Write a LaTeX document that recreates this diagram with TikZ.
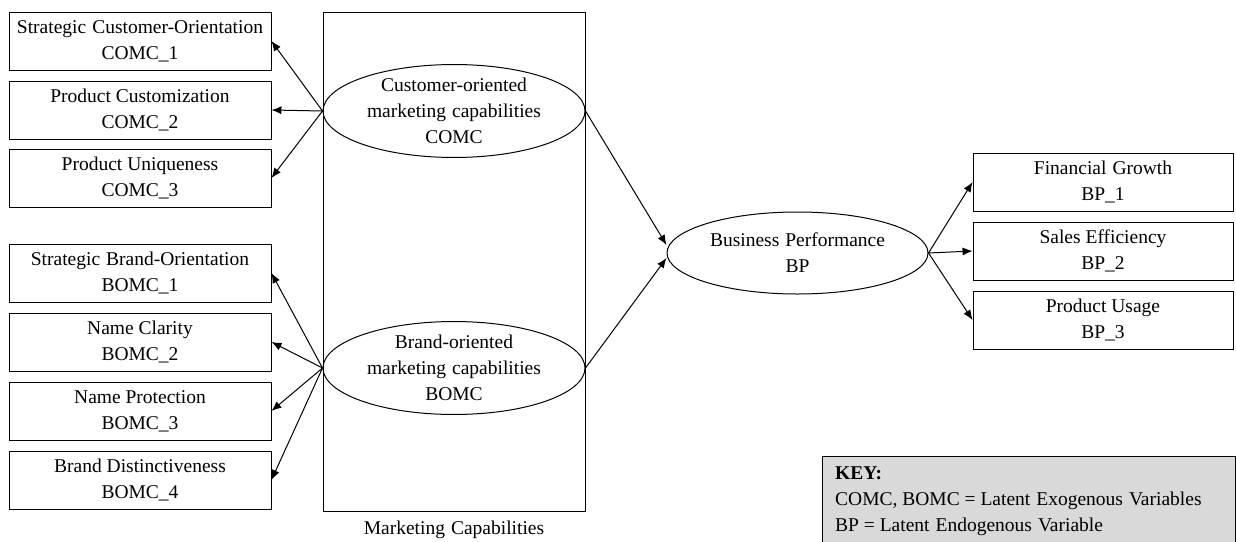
\documentclass[tikz,border=0pt]{standalone}
\usepackage{fontspec}
\setmainfont{Liberation Serif}
\usetikzlibrary{shapes.geometric,arrows.meta}
\newcommand{\wsp}{\hspace{6pt}}
\tikzset{
  txt/.style={font=\fontsize{19.5}{26}\selectfont},
  indbox/.style={txt,draw,line width=0.9pt,minimum width=262pt,minimum height=58pt,align=center,inner sep=0pt},
  outbox/.style={indbox,minimum width=260pt},
  latent/.style={txt,draw,ellipse,line width=1pt,minimum width=262pt,minimum height=82pt,align=center,inner sep=0pt},
  arr/.style={line width=1pt,-{Latex[length=10pt,width=8pt]}}
}
\begin{document}
\begin{tikzpicture}[x=1pt,y=-1pt]
\useasboundingbox (0,0) rectangle (1236,541);

% marketing capabilities frame
\node[draw,line width=0.9pt,minimum width=262pt,minimum height=499pt,inner sep=0pt] (mc) at (454,261.5) {};
\node[txt] (mclabel) at (454,530) {Marketing\wsp Capabilities};

% latent constructs
\node[latent] (comc) at (454,111) {Customer-oriented\\marketing\wsp capabilities\\COMC};
\node[latent] (bomc) at (454,368) {Brand-oriented\\marketing\wsp capabilities\\BOMC};
\node[latent,minimum width=261pt] (bp) at (797.5,253) {Business\wsp Performance\\BP};

% indicators of COMC
\node[indbox] (c1) at (140,41)  {Strategic\wsp Customer-Orientation\\COMC\_1};
\node[indbox] (c2) at (140,110) {Product Customization\\COMC\_2};
\node[indbox] (c3) at (140,178) {Product Uniqueness\\COMC\_3};

% indicators of BOMC
\node[indbox] (b1) at (140,273) {Strategic\wsp Brand-Orientation\\BOMC\_1};
\node[indbox] (b2) at (140,342) {Name Clarity\\BOMC\_2};
\node[indbox] (b3) at (140,411) {Name Protection\\BOMC\_3};
\node[indbox] (b4) at (140,480) {Brand Distinctiveness\\BOMC\_4};

% indicators of BP
\node[outbox] (p1) at (1103,182) {Financial\wsp Growth\\BP\_1};
\node[outbox] (p2) at (1103,251) {Sales Efficiency\\BP\_2};
\node[outbox] (p3) at (1103,320) {Product Usage\\BP\_3};

% loadings
\foreach \t in {c1,c2,c3} \draw[arr] (comc.west) -- (\t.east);
\foreach \t in {b1,b2,b3,b4} \draw[arr] (bomc.west) -- (\t.east);
\foreach \t in {p1,p2,p3} \draw[arr] (bp.east) -- (\t.west);

% structural paths
\draw[arr] (comc.east) -- ([yshift=8pt]bp.west);
\draw[arr] (bomc.east) -- ([yshift=-5pt]bp.west);

% key
\node[draw,line width=0.9pt,fill=gray!30,minimum width=413pt,minimum height=90pt,inner sep=0pt,anchor=north west] (keybox) at (822,456) {};
\node[txt,align=left,anchor=north west,inner sep=0pt] (keytext) at (835,467)
  {\textbf{KEY:}\\COMC, BOMC = Latent\wsp Exogenous\wsp Variables\\BP = Latent\wsp Endogenous\wsp Variable};
\end{tikzpicture}
\end{document}
